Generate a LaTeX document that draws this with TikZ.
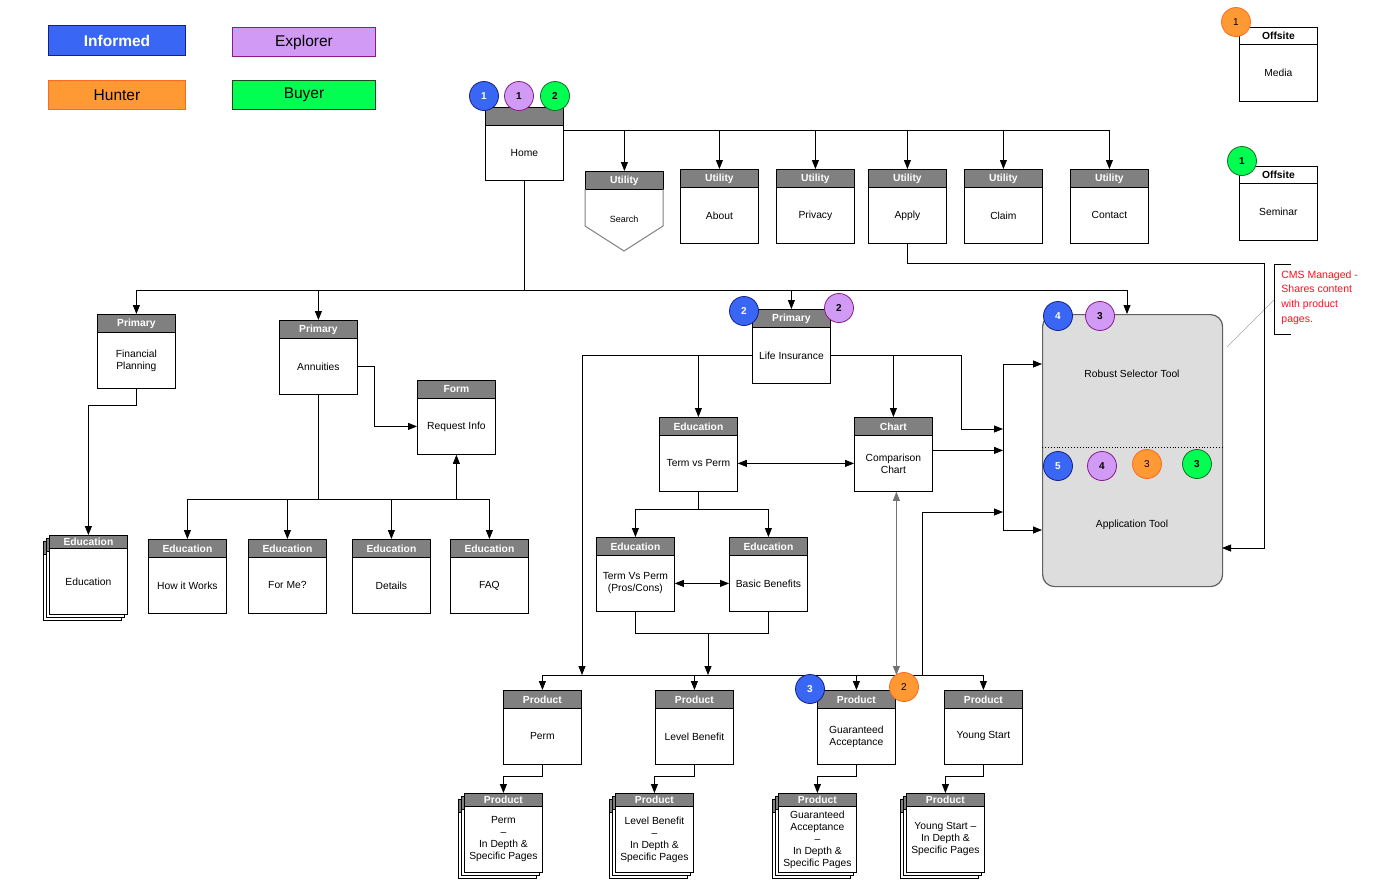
\documentclass[tikz,border=0pt]{standalone}
\usepackage{fontspec}
\setmainfont{Liberation Sans}
\usetikzlibrary{arrows.meta,calc}
\definecolor{hdrgray}{HTML}{808080}
\definecolor{bfill}{HTML}{3A66F5}
\definecolor{bdraw}{HTML}{14208A}
\definecolor{pfill}{HTML}{D09AF5}
\definecolor{pdraw}{HTML}{8A1A8A}
\definecolor{ofill}{HTML}{FF9933}
\definecolor{odraw}{HTML}{FF6A20}
\definecolor{gfill}{HTML}{00FF50}
\definecolor{gdraw}{HTML}{1A6A2A}
\definecolor{toolfill}{HTML}{DDDDDD}
\definecolor{tooldraw}{HTML}{606060}
\definecolor{notered}{HTML}{FF1020}
\newcommand\bxfont{\fontsize{10.3}{12}\selectfont}
\newcommand\hdfont{\fontsize{10.3}{12}\selectfont\bfseries}
\newcommand\pgbox[6][56]{%
  \node[hdr] (#2-h) at (#3,#4) {#5};
  \node[bdy, minimum height=#1] (#2) at (#3,#4+18) {#6};
}
\newcommand\stkbox[5]{%
  \node[hdr, minimum height=13] (#1-b6h) at (#2-6,#3+6) {};
  \node[bdy, minimum height=66] (#1-b6) at (#2-6,#3+19) {};
  \node[hdr, minimum height=13] (#1-b3h) at (#2-3,#3+3) {};
  \node[bdy, minimum height=66] (#1-b3) at (#2-3,#3+16) {};
  \node[hdr, minimum height=13] (#1-h) at (#2,#3) {#4};
  \node[bdy, minimum height=66] (#1) at (#2,#3+13) {#5};
}
\begin{document}
\begin{tikzpicture}[x=1pt,y=-1pt,
  line width=0.8pt,
  hdr/.style={draw=black, fill=hdrgray, text=white, font=\hdfont, minimum width=78, minimum height=18, inner sep=0pt, anchor=north west},
  ofh/.style={hdr, fill=white, text=black},
  bdy/.style={draw=black, fill=white, font=\bxfont, minimum width=78, align=center, inner sep=1pt, anchor=north west},
  arr/.style={-{Triangle[length=9pt,width=7pt]}},
  arrb/.style={{Triangle[length=9pt,width=7pt]}-{Triangle[length=9pt,width=7pt]}},
  circ/.style={circle, minimum size=29pt, inner sep=0pt, line width=0.8pt, font=\fontsize{10}{12}\selectfont\bfseries},
  cb/.style={circ, fill=bfill, draw=bdraw, text=white},
  cp/.style={circ, fill=pfill, draw=pdraw, text=black},
  co/.style={circ, fill=ofill, draw=odraw, text=black, font=\fontsize{10}{12}\selectfont},
  cg/.style={circ, fill=gfill, draw=gdraw, text=black},
  leg/.style={minimum width=137, minimum height=30, inner sep=0pt, anchor=north west, line width=1pt, font=\fontsize{15.5}{18}\selectfont}
]
\useasboundingbox (0,0) rectangle (1381,892);

% legend
\node[leg, fill=bfill, draw=bdraw, text=white, font=\fontsize{15.5}{18}\selectfont\bfseries] (lgi) at (48,25) {Informed};
\node[leg, fill=pfill, draw=pdraw, minimum width=143, minimum height=29] (lge) at (232,27) {Explorer};
\node[leg, fill=ofill, draw=odraw, minimum height=29] (lgh) at (48,80) {Hunter};
\node[leg, fill=gfill, draw=gdraw!70!black, minimum width=143, minimum height=29] (lgb) at (232,80) {Buyer};

% home + utilities
\pgbox[55]{home}{485}{107}{}{Home}
\node[hdr] (search-h) at (585,171) {Utility};
\draw[draw=hdrgray, line width=1pt] (585,189) -- (585,226) -- (624,251) -- (663,226) -- (663,189);
\node[font=\fontsize{9}{11}\selectfont] (search) at (624,219) {Search};
\pgbox{about}{680}{169}{Utility}{About}
\pgbox{privacy}{776}{169}{Utility}{Privacy}
\pgbox{apply}{868}{169}{Utility}{Apply}
\pgbox{claim}{964}{169}{Utility}{Claim}
\pgbox{contact}{1070}{169}{Utility}{Contact}

% offsite
\node[ofh, minimum height=17] (media-h) at (1239,27) {Offsite};
\node[bdy, minimum height=57] (media) at (1239,44) {Media};
\node[ofh, minimum height=17] (seminar-h) at (1239,166) {Offsite};
\node[bdy, minimum height=57] (seminar) at (1239,183) {Seminar};

% left branch
\pgbox{fin}{97}{314}{Primary}{Financial\\Planning}
\pgbox{ann}{279}{320}{Primary}{Annuities}
\pgbox{req}{417}{380}{Form}{Request Info}
\stkbox{edu}{49}{535}{Education}{Education}
\pgbox{how}{148}{539}{Education}{How it Works}
\pgbox{forme}{248}{539}{Education}{For Me?}
\pgbox{details}{352}{539}{Education}{Details}
\pgbox{faq}{450}{539}{Education}{FAQ}

% life insurance branch
\pgbox{life}{752}{309}{Primary}{Life Insurance}
\pgbox{tvp}{659}{417}{Education}{Term vs Perm}
\pgbox{chart}{854}{417}{Chart}{Comparison\\Chart}
\pgbox{pros}{596}{537}{Education}{Term Vs Perm\\(Pros/Cons)}
\pgbox{bb}{729}{537}{Education}{Basic Benefits}

% products
\pgbox{perm}{503}{690}{Product}{Perm}
\pgbox{level}{655}{690}{Product}{Level Benefit}
\pgbox{ga}{817}{690}{Product}{Guaranteed\\Acceptance}
\pgbox{ys}{944}{690}{Product}{Young Start}
\stkbox{permd}{464}{793}{Product}{Perm\\–\\In Depth \&\\Specific Pages}
\stkbox{leveld}{615}{793}{Product}{Level Benefit\\–\\In Depth \&\\Specific Pages}
\stkbox{gad}{778}{793}{Product}{Guaranteed\\Acceptance\\–\\In Depth \&\\Specific Pages}
\stkbox{ysd}{906}{793}{Product}{Young Start –\\In Depth \&\\Specific Pages}

% tool box
\node[draw=tooldraw, fill=toolfill, line width=1.2pt, rounded corners=12pt, minimum width=180, minimum height=272, anchor=north west, inner sep=0pt] (rst) at (1042,314) {};
\draw[dotted, line width=0.9pt] (rst.west |- 0,447) coordinate (dl) -- (rst.east |- dl);
\node[font=\bxfont] (rsttxt) at (1132,374) {Robust Selector Tool};
\node[font=\bxfont] (apptxt) at (1132,525) {Application Tool};

% note
\draw (1291,264) -- (1274,264) -- (1274,334) -- (1291,334);
\node[anchor=north west, inner sep=0pt, align=left, text=notered, font=\fontsize{10.5}{14.7}\selectfont] (note) at (1281,270) {CMS Managed -\\Shares content\\with product\\pages.};
\draw[gray!70, line width=0.6pt] (1227,347) coordinate (n1) -- (1274,300) coordinate (n2);

% coordinates
\coordinate (bus1) at (0,130);
\coordinate (bus2) at (0,290);
\coordinate (bus3) at (0,499);
\coordinate (bus4) at (0,675);
\coordinate (bus5) at (0,509);
\coordinate (bus6) at (0,633);
\coordinate (c1) at (1264,263);
\coordinate (rstR) at (1222,548);
\coordinate (rstT) at (1127,314);
\coordinate (vtop) at (1003,364);
\coordinate (vbot) at (1003,530);
\coordinate (k1) at (961,429);
\coordinate (k2) at (1003,429);
\coordinate (lp) at (582,675);
\coordinate (mid) at (708,633);
\coordinate (m1) at (922,675);
\coordinate (m2) at (1003,512);

% connectors: home
\draw (home.east |- bus1) -- (contact-h.north |- bus1);
\foreach \n in {search,about,privacy,apply,claim,contact}
  \draw[arr] (\n-h.north |- bus1) -- (\n-h.north);
\draw (home.south) -- (home.south |- bus2);
\draw (fin-h.north |- bus2) -- (rstT |- bus2);
\foreach \n in {fin,ann,life}
  \draw[arr] (\n-h.north |- bus2) -- (\n-h.north);
\draw[arr] (rstT |- bus2) -- (rstT);
\draw[arr] (apply.south) |- (c1) |- (rstR);

% left branch
\draw[arr] (fin.south) -- ++(0,17) -| (edu-h.north);
\draw[arr] (ann.east) -- ++(17,0) |- (req.west);
\draw (ann.south) -- (ann.south |- bus3);
\draw (how-h.north |- bus3) -- (faq-h.north |- bus3);
\foreach \n in {how,forme,details,faq}
  \draw[arr] (\n-h.north |- bus3) -- (\n-h.north);
\draw[arr] (req.south |- bus3) -- (req.south);

% life insurance branch
\draw[arr] (life.west) -| (lp);
\draw[arr] (tvp-h.north |- life.west) -- (tvp-h.north);
\draw[arr] (life.east) -| (chart-h.north);
\draw[arr] (life.east) -| (k1) -- (k2);
\draw (vtop) -- (vbot);
\draw[arr] (vtop) -- (vtop -| rst.west);
\draw[arr] (vbot) -- (vbot -| rst.west);
\draw[arr] ([yshift=13pt]chart.east) -- ([yshift=13pt]chart.east -| vtop);
\draw[arrb] (tvp.east) -- (chart.west);
\draw (tvp.south) -- (tvp.south |- bus5);
\draw[arr] (tvp.south |- bus5) -| (pros-h.north);
\draw[arr] (tvp.south |- bus5) -| (bb-h.north);
\draw[arrb] (pros.east) -- (bb.west);
\draw (pros.south) |- (mid) -| (bb.south);
\draw[arr] (mid) -- (mid |- bus4);
\draw[arrb, draw=black!55] ([xshift=3pt]chart.south) -- ([xshift=3pt]chart.south |- bus4);
\draw[arr] (m1) |- (m2);

% products
\draw (perm-h.north |- bus4) -- (ys-h.north |- bus4);
\foreach \n in {perm,level,ga,ys}
  \draw[arr] (\n-h.north |- bus4) -- (\n-h.north);
\draw[arr] (perm.south) -- ++(0,12) -| (permd-h.north);
\draw[arr] (level.south) -- ++(0,12) -| (leveld-h.north);
\draw[arr] (ga.south) -- ++(0,12) -| (gad-h.north);
\draw[arr] (ys.south) -- ++(0,12) -| (ysd-h.north);

% circles
\node[cb] (h1) at (484,96) {1};
\node[cp] (h2) at (519,96) {1};
\node[cg] (h3) at (555,96) {2};
\node[co] (o1) at (1236,22) {1};
\node[cg] (o2) at (1242,161) {1};
\node[cb] (l1) at (744,311) {2};
\node[cp] (l2) at (839,308) {2};
\node[cb] (r1) at (1058,316) {4};
\node[cp] (r2) at (1100,316) {3};
\node[cb] (a1) at (1058,466) {5};
\node[cp] (a2) at (1102,466) {4};
\node[co] (a3) at (1147,464) {3};
\node[cg] (a4) at (1197,464) {3};
\node[cb] (g1) at (810,689) {3};
\node[co] (g2) at (904,687) {2};
\end{tikzpicture}
\end{document}
